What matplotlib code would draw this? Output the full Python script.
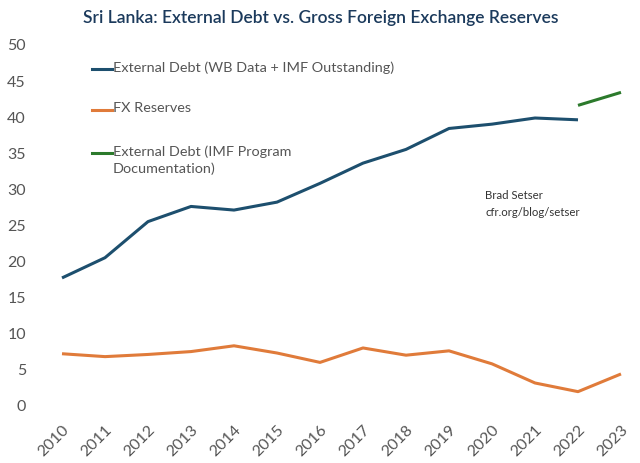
import matplotlib
matplotlib.use("Agg")
import matplotlib.pyplot as plt
from matplotlib.lines import Line2D

years = list(range(2010, 2024))
debt_wb = [17.6, 20.4, 25.4, 27.5, 27.0, 28.1, 30.7, 33.5, 35.4, 38.3, 38.9, 39.75, 39.5]
fx_reserves = [7.1, 6.7, 7.0, 7.4, 8.2, 7.2, 5.9, 7.9, 6.9, 7.5, 5.7, 3.05, 1.85, 4.3]
debt_imf_years = [2022, 2023]
debt_imf = [41.5, 43.3]

labels = [
    "External Debt (WB Data + IMF Outstanding)",
    "FX Reserves",
    "External Debt (IMF Program\nDocumentation)",
]
colors = ["#1d4f6e", "#e07b3a", "#2c7a2c"]

plt.rcParams["font.family"] = ["Lato", "DejaVu Sans"]

W, H = 640, 464
fig = plt.figure(figsize=(6.4, 4.64), dpi=100)
ax = fig.add_axes([62 / W, 1 - 406 / H, (621 - 62) / W, (406 - 45) / H])

ax.plot(years[:len(debt_wb)], debt_wb, color=colors[0], lw=2.2, clip_on=False, solid_capstyle="butt")
ax.plot(years, fx_reserves, color=colors[1], lw=2.2, clip_on=False, solid_capstyle="butt")
ax.plot(debt_imf_years, debt_imf, color=colors[2], lw=2.2, clip_on=False, solid_capstyle="butt")

ax.set_xlim(2010, 2023)
ax.set_ylim(0, 50)
ax.set_yticks(range(0, 51, 5))
ax.set_xticks(years)
ax.set_xticklabels([str(y) for y in years], rotation=45, ha="right", va="top",
                   rotation_mode="anchor")
ax.tick_params(axis="y", length=0, pad=26, labelsize=11.5, labelcolor="#555555")
ax.tick_params(axis="x", length=0, pad=12, labelsize=11.5, labelcolor="#555555")
for s in ax.spines.values():
    s.set_visible(False)

fig.text(321 / W, 1 - 18 / H, "Sri Lanka: External Debt vs. Gross Foreign Exchange Reserves",
         ha="center", va="center", fontsize=12.5, color="#1b3a5c", fontweight="semibold")

# legend drawn by hand so the handle sits on the first text line
rows_y = [70, 111, 154]
for lab, col, yy in zip(labels, colors, rows_y):
    fig.add_artist(Line2D([92 / W, 112 / W], [1 - yy / H, 1 - yy / H], color=col, lw=2.2,
                          transform=fig.transFigure))
    fig.text(113 / W, 1 - (yy - 9) / H, lab, ha="left", va="top", fontsize=10.4,
             color="#555555", linespacing=1.45)

fig.text(485 / W, 1 - 204 / H, "Brad Setser\ncfr.org/blog/setser", ha="left", va="center",
         fontsize=8.2, color="#333333", linespacing=1.6)

fig.savefig("out.png", dpi=100)
